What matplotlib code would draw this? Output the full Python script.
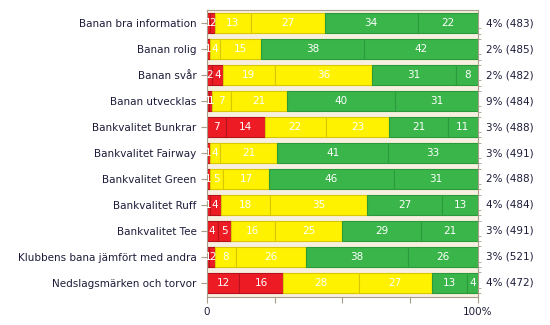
import matplotlib
matplotlib.use('Agg')
import matplotlib.pyplot as plt
import numpy as np

categories = ['Banan bra information', 'Banan rolig', 'Banan svår', 'Banan utvecklas',
              'Bankvalitet Bunkrar', 'Bankvalitet Fairway', 'Bankvalitet Green',
              'Bankvalitet Ruff', 'Bankvalitet Tee', 'Klubbens bana jämfört med andra',
              'Nedslagsmärken och torvor']

# sex svarsnivåer per rad (röd, röd, gul, gul, grön, grön)
red1 = [1, 1, 2, 1, 7, 0, 0, 1, 4, 1, 12]
red2 = [2, 0, 4, 1, 14, 1, 1, 4, 5, 2, 16]
yel1 = [13, 4, 19, 7, 22, 4, 5, 18, 16, 8, 28]
yel2 = [27, 15, 36, 21, 23, 21, 17, 35, 25, 26, 27]
grn1 = [34, 38, 31, 40, 21, 41, 46, 27, 29, 38, 13]
grn2 = [22, 42, 8, 31, 11, 33, 31, 13, 21, 26, 4]

ej_svar = ['4%', '2%', '2%', '9%', '3%', '3%', '2%', '4%', '3%', '3%', '4%']
antal = [483, 485, 482, 484, 488, 491, 488, 484, 491, 521, 472]

serier = [red1, red2, yel1, yel2, grn1, grn2]
farger = ['#ed1c24', '#ed1c24', '#fff200', '#fff200', '#39b54a', '#39b54a']
kanter = ['#b5121b', '#b5121b', '#d9c800', '#d9c800', '#2b9a3a', '#2b9a3a']

data = np.array(serier, dtype=float)
andel = data / data.sum(axis=0) * 100

fig = plt.figure(figsize=(5.5, 3.25), dpi=100)
ax = fig.add_axes([0.376, 0.086, 0.493, 0.883])
ax.set_facecolor('#f7efdf')

y = np.arange(len(categories))
vanster = np.zeros(len(categories))
for i in range(len(serier)):
    ax.barh(y, andel[i], left=vanster, height=0.77, color=farger[i],
            edgecolor=kanter[i], linewidth=0.8)
    for j in range(len(categories)):
        if data[i, j] > 0:
            ax.text(vanster[j] + andel[i, j] / 2, y[j], str(int(data[i, j])),
                    color='white', ha='center', va='center', fontsize=7.5)
    vanster += andel[i]

for j in range(len(categories)):
    ax.text(103, y[j], f'{ej_svar[j]} ({antal[j]})', ha='left', va='center',
            fontsize=7.5, color='#1c1c3a', clip_on=False)

ax.set_xlim(0, 100)
ax.set_ylim(len(categories) - 0.45, -0.51)
ax.set_yticks(y)
ax.set_yticklabels(categories, fontsize=7.5, color='#1c1c3a')
ax.set_yticks([v + d for v in y for d in (0.2, 0.4, 0.6) if v + d < len(categories) - 0.45],
              minor=True)
ax.set_xticks([0, 25, 50, 75, 100])
ax.set_xticklabels(['0', '', '', '', '100%'], fontsize=7.5, color='#1c1c3a')
ax.tick_params(axis='both', color='#a89f8a', length=4)
ax.tick_params(axis='y', which='minor', left=False, right=True, length=2, color='#a89f8a')
for s in ax.spines.values():
    s.set_color('#a89f8a')

fig.savefig('out.png', dpi=100)
